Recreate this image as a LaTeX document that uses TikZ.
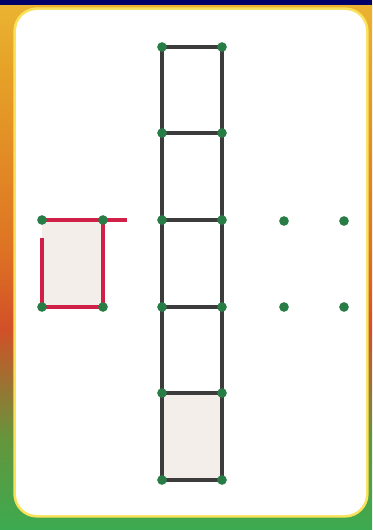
\documentclass[tikz,border=0pt]{standalone}
\definecolor{lineg}{RGB}{60,60,60}
\definecolor{redl}{RGB}{208,32,72}
\definecolor{dotg}{RGB}{40,125,70}
\definecolor{cellc}{RGB}{243,238,233}
\definecolor{glow}{RGB}{250,225,90}
\definecolor{bga}{RGB}{60,170,80}
\definecolor{bgb}{RGB}{100,150,60}
\definecolor{bgc}{RGB}{210,80,40}
\definecolor{bgd}{RGB}{222,115,35}
\definecolor{bge}{RGB}{230,165,40}
\definecolor{bgf}{RGB}{235,180,50}
\pgfdeclareverticalshading{bgshade}{100bp}{color(0bp)=(bga); color(25bp)=(bga); color(33.5bp)=(bgb); color(44bp)=(bgc); color(51.5bp)=(bgd); color(69.5bp)=(bge); color(75bp)=(bgf); color(100bp)=(bgf)}
\begin{document}
\begin{tikzpicture}[x=0.02cm,y=-0.02cm,
  edge/.style={draw=lineg, line width=2.3pt},
  redge/.style={draw=redl, line width=2.8pt},
  dot/.style={circle, fill=dotg, inner sep=0pt, minimum size=5.5pt},
  cellfill/.style={fill=cellc}]
\useasboundingbox (0,0) rectangle (372,530);
% background gradient
\shade[shading=bgshade] (0,0) rectangle (372,530);
\fill[blue!40!black] (0,0) rectangle (372,5);
% card with glow
\draw[glow, line width=3pt, rounded corners=12] (16,10) rectangle (366,515);
\fill[white, rounded corners=12] (16,10) rectangle (366,515);
% column
\foreach \i/\y in {0/47,1/133,2/220,3/307,4/393,5/480}{
  \coordinate (L\i) at (162,\y);
  \coordinate (R\i) at (222,\y);
}
\fill[cellfill] (L4) rectangle (R5);
\draw[edge] (L0) -- (L5);
\draw[edge] (R0) -- (R5);
\foreach \i in {0,...,5}{\draw[edge] (L\i) -- (R\i);}
\foreach \i in {0,...,5}{\node[dot] at (L\i) {}; \node[dot] at (R\i) {};}
% red square
\coordinate (a) at (42,220);
\coordinate (b) at (103,220);
\coordinate (c) at (42,307);
\coordinate (d) at (103,307);
\coordinate (e) at (127,220);
\coordinate (f) at (42,238);
\fill[cellfill] (a) rectangle (d);
\draw[redge] (a) -- (e);
\draw[redge] (b) -- (d);
\draw[redge] (c) -- (d);
\draw[redge] (f) -- (c);
\node[dot] at (a) {};
\node[dot] at (b) {};
\node[dot] at (c) {};
\node[dot] at (d) {};
% free dots
\node[dot] (p1) at (284,221) {};
\node[dot] (p2) at (344,221) {};
\node[dot] (p3) at (284,307) {};
\node[dot] (p4) at (344,307) {};
\end{tikzpicture}
\end{document}
